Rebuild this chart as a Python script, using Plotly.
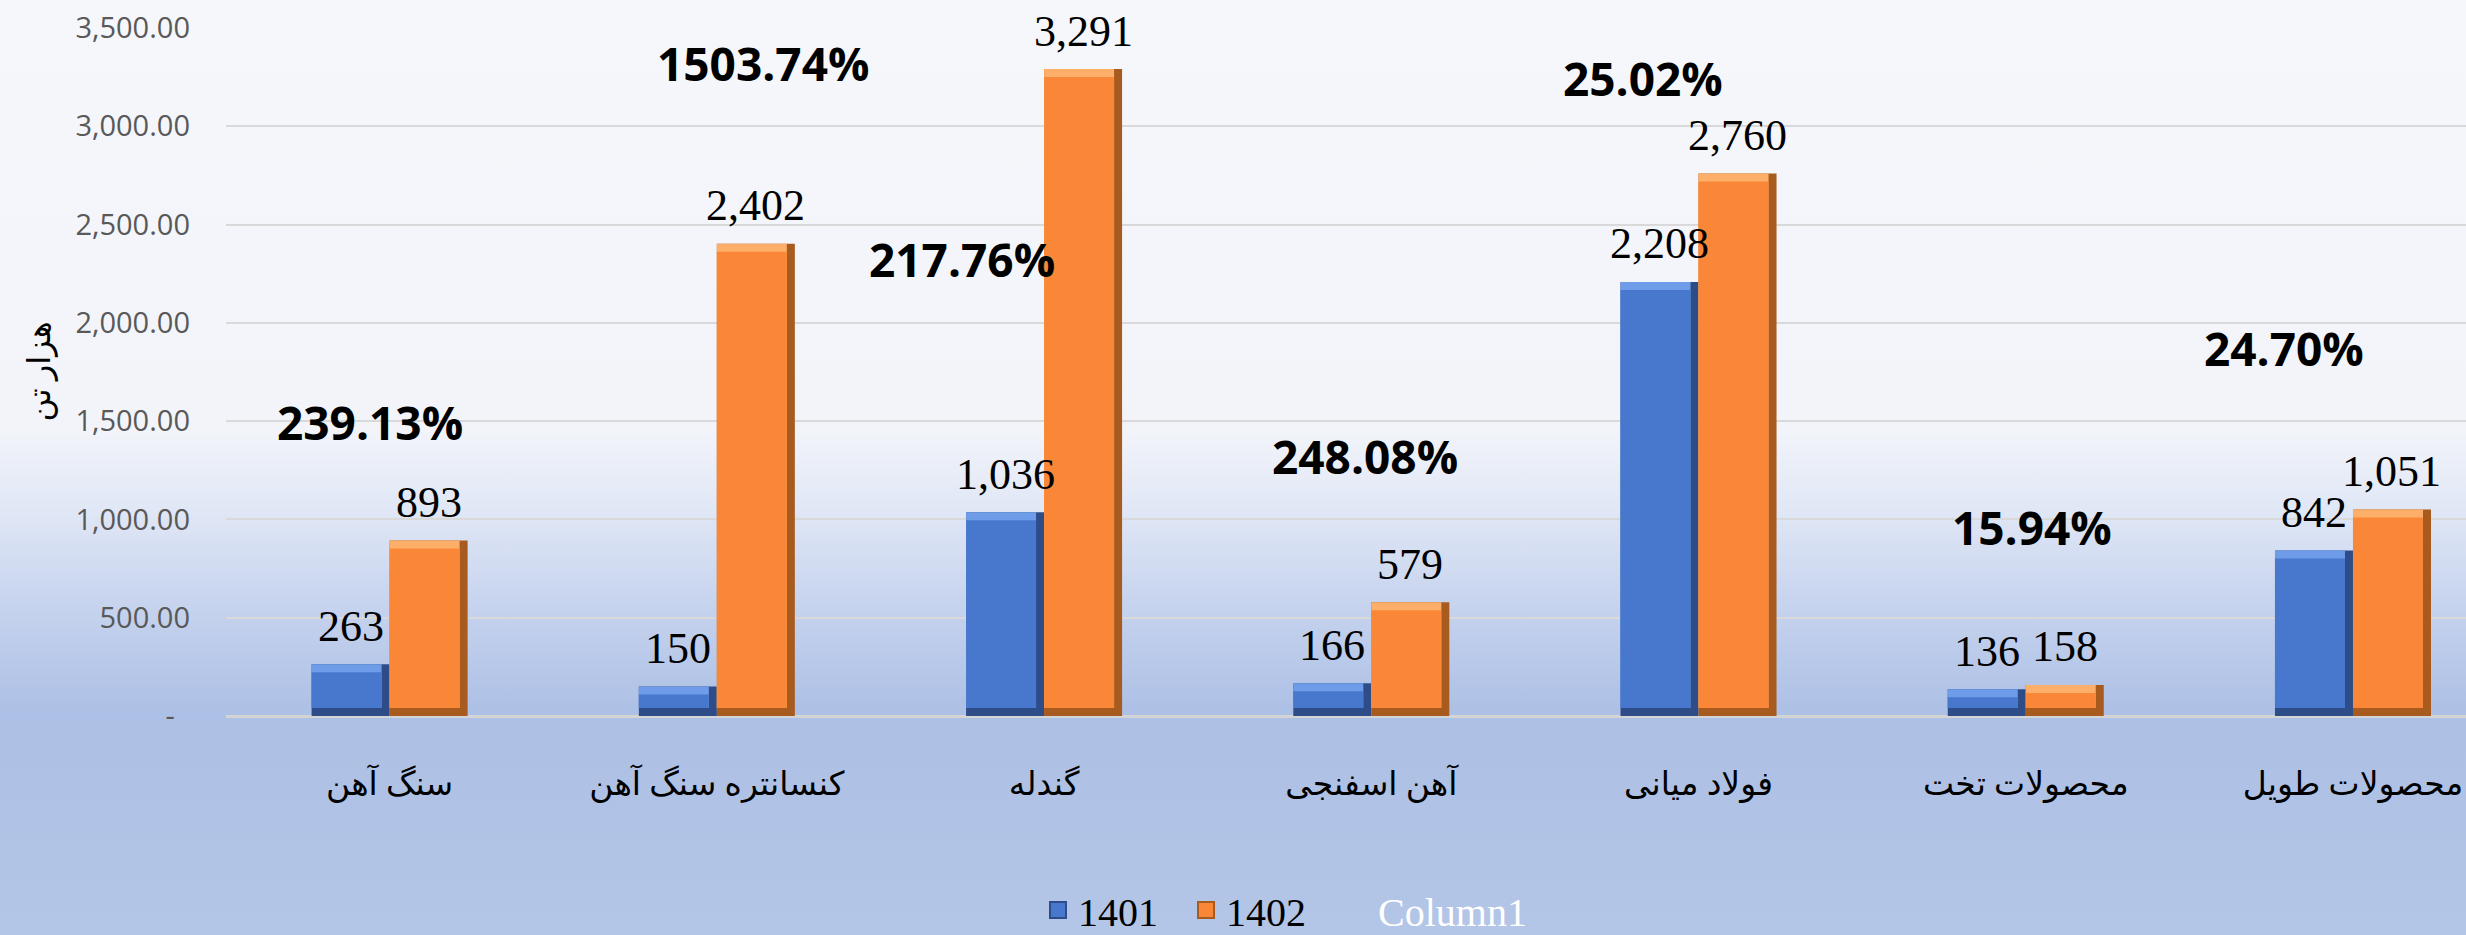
import base64
import plotly.graph_objects as go

# ---------------- data ----------------
categories = ["سنگ آهن", "کنسانتره سنگ آهن", "گندله", "آهن اسفنجی", "فولاد میانی", "محصولات تخت", "محصولات طویل"]
values_1401 = [263, 150, 1036, 166, 2208, 136, 842]
values_1402 = [893, 2402, 3291, 579, 2760, 158, 1051]
growth_pct = [239.13, 1503.74, 217.76, 248.08, 25.02, 15.94, 24.70]
series_names = ["1401", "1402", "Column1"]
y_tick_values = [0, 500, 1000, 1500, 2000, 2500, 3000, 3500]
y_tick_labels = ["-\u00a0\u00a0", "500.00", "1,000.00", "1,500.00", "2,000.00", "2,500.00", "3,000.00", "3,500.00"]
y_axis_title = "هزار تن"

# label placement for growth percentages (category offset, y in axis units)
pct_x_offset = [-0.06, 0.14, -0.25, -0.02, -0.17, 0.02, -0.21]
pct_y_pos = [1496, 3322, 2325, 1323, 3246, 961, 1872]

# ---------------- layout constants ----------------
W, H = 2466, 935
ML, MR, MT, MB = 226, 0, 28, 219
PW, PH = W - ML - MR, H - MT - MB
CAT_PX = 327.2
X_RANGE = [-0.5, 6.0 + (W - 2353) / CAT_PX]
Y_RANGE = [0, 3500]
BAR_W = 78 / CAT_PX
BEV_X = 8 / CAT_PX
BEV_Y = 8 * (Y_RANGE[1] - Y_RANGE[0]) / PH

colors = {
    "1401": dict(dark="#2E4C87", light="#6E9CE8", face="#4778CD"),
    "1402": dict(dark="#A85B1F", light="#FDAE68", face="#FA8737"),
}
serif = "Liberation Serif, Times New Roman, DejaVu Serif, DejaVu Sans, serif"

fig = go.Figure()
xs = list(range(len(categories)))

for name, vals, off in [("1401", values_1401, -BAR_W), ("1402", values_1402, 0.0)]:
    c = colors[name]
    fig.add_trace(go.Bar(x=xs, y=vals, offset=off, width=BAR_W, marker=dict(color=c["dark"], line=dict(width=0)),
                         showlegend=False, hoverinfo="skip", name=name))
    fig.add_trace(go.Bar(x=xs, y=[v - BEV_Y for v in vals], base=[BEV_Y] * len(vals), offset=off,
                         width=BAR_W - BEV_X, marker=dict(color=c["light"], line=dict(width=0)),
                         showlegend=False, hoverinfo="skip", name=name))
    fig.add_trace(go.Bar(x=xs, y=[max(v - 2 * BEV_Y, 0) for v in vals], base=[BEV_Y] * len(vals), offset=off,
                         width=BAR_W - BEV_X, marker=dict(color=c["face"], line=dict(width=0)),
                         showlegend=False, name=name))

for name in ["1401", "1402"]:
    c = colors[name]
    fig.add_trace(go.Scatter(x=[None], y=[None], mode="markers", name=name, showlegend=True, legend="legend",
                             marker=dict(symbol="square", size=22, color=c["face"],
                                         line=dict(color=c["dark"], width=2))))
fig.add_trace(go.Scatter(x=[None], y=[None], mode="markers", legend="legend2",
                         marker=dict(color="rgba(0,0,0,0)", size=1, line=dict(width=0)),
                         name="<span style='color:white'>Column1</span>", showlegend=True))

annotations = []
for i in xs:
    for vals, dx in [(values_1401, -BAR_W / 2), (values_1402, BAR_W / 2)]:
        annotations.append(dict(x=i + dx, y=vals[i], xref="x", yref="y", text=f"{vals[i]:,}",
                                showarrow=False, yanchor="middle", yshift=38,
                                font=dict(family=serif, size=44, color="black")))
    annotations.append(dict(x=i + pct_x_offset[i], y=pct_y_pos[i], xref="x", yref="y",
                            text=f"<b>{growth_pct[i]:.2f}%</b>", showarrow=False,
                            font=dict(family="Open Sans, DejaVu Sans, sans-serif", size=46, color="black")))

annotations.append(dict(x=(18 - ML) / PW, y=0.5, xref="paper", yref="paper", text=y_axis_title,
                        textangle=-90, showarrow=False,
                        font=dict(family=serif, size=32, color="black")))

svg = ('<svg xmlns="http://www.w3.org/2000/svg" width="100" height="100" viewBox="0 0 100 100" preserveAspectRatio="none">'
       '<defs><linearGradient id="g" x1="0" y1="0" x2="0" y2="1">'
       '<stop offset="0" stop-color="#F6F7FB"/>'
       '<stop offset="0.46" stop-color="#F2F4FA"/>'
       '<stop offset="0.55" stop-color="#DFE6F5"/>'
       '<stop offset="0.65" stop-color="#C6D3EE"/>'
       '<stop offset="0.76" stop-color="#ADC0E5"/>'
       '<stop offset="1" stop-color="#B3C6E7"/>'
       '</linearGradient></defs><rect x="0" y="0" width="100" height="100" fill="url(#g)"/></svg>')
src = "data:image/svg+xml;base64," + base64.b64encode(svg.encode()).decode()

legend_y = (MT + PH - 910) / PH
legend_common = dict(orientation="h", y=legend_y, yanchor="middle", xanchor="left",
                     font=dict(family=serif, size=40, color="black"), bgcolor="rgba(0,0,0,0)",
                     traceorder="normal", itemsizing="trace", itemwidth=30)

fig.update_layout(
    width=W, height=H,
    margin=dict(l=ML, r=MR, t=MT, b=MB, pad=0, autoexpand=False),
    paper_bgcolor="#B3C6E7",
    plot_bgcolor="rgba(0,0,0,0)",
    barmode="overlay",
    images=[dict(source=src, xref="paper", yref="paper", x=-ML / PW, y=1 + MT / PH,
                 sizex=W / PW, sizey=H / PH, xanchor="left", yanchor="top",
                 sizing="stretch", layer="below")],
    annotations=annotations,
    showlegend=True,
    legend=dict(x=(1038 - ML) / PW, entrywidth=103, entrywidthmode="pixels", **legend_common),
    legend2=dict(x=(1338 - ML) / PW, **legend_common),
    xaxis=dict(range=X_RANGE, tickvals=xs, ticktext=categories, showgrid=False, zeroline=False,
               showline=False, ticks="", ticklabelstandoff=45, ticklabeloverflow="allow", automargin=False,
               tickfont=dict(family=serif, size=33, color="black"), fixedrange=True),
    yaxis=dict(range=Y_RANGE, tickvals=y_tick_values, ticktext=y_tick_labels, showgrid=True, automargin=False,
               gridcolor="#D9D9D9", gridwidth=2, zeroline=True, zerolinecolor="#D4D4D4", zerolinewidth=3,
               showline=False, ticks="", ticklabelstandoff=35,
               tickfont=dict(family="Open Sans, DejaVu Sans, sans-serif", size=29, color="#595959")),
)

fig.write_html("out.html", config={"displayModeBar": False},
               post_script="document.body.style.margin='0';document.body.style.overflow='hidden';document.body.style.background='#B3C6E7';")
